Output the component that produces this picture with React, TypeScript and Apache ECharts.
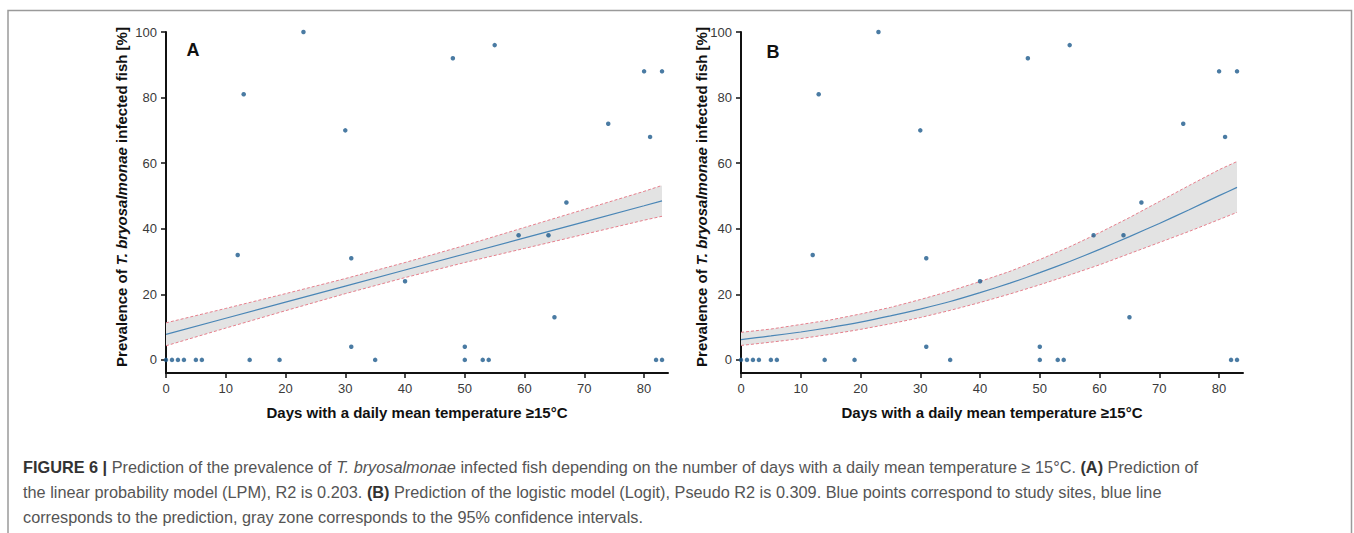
import React, { useEffect, useRef } from "react";
import * as echarts from "echarts";

// Study sites (same in both panels)
const siteDays = [0, 1, 2, 3, 5, 6, 14, 19, 35, 50, 53, 54, 82, 83, 12, 13, 23, 30, 31, 31, 40, 48, 50, 55, 59, 64, 65, 67, 74, 80, 81, 83];
const sitePrev = [0, 0, 0, 0, 0, 0, 0, 0, 0, 0, 0, 0, 0, 0, 32, 81, 100, 70, 31, 4, 24, 92, 4, 96, 38, 38, 13, 48, 72, 88, 68, 88];

// Panel A: linear probability model
const lpmX = [0, 10, 20, 30, 40, 50, 60, 70, 80, 83];
const lpmFit = [7.8, 12.7, 17.6, 22.5, 27.4, 32.3, 37.2, 42.1, 47.0, 48.5];
const lpmLower = [4.3, 9.7, 15.0, 20.2, 25.1, 29.7, 34.0, 38.3, 42.6, 43.8];
const lpmUpper = [11.3, 15.7, 20.2, 24.8, 29.7, 34.9, 40.4, 45.9, 51.4, 53.2];

// Panel B: logistic model
const logitX = [0, 5, 10, 15, 20, 25, 30, 35, 40, 45, 50, 55, 60, 65, 70, 75, 80, 83];
const logitFit = [6.2, 7.3, 8.5, 9.9, 11.5, 13.4, 15.5, 17.8, 20.5, 23.4, 26.6, 30.0, 33.7, 37.6, 41.6, 45.8, 50.1, 52.6];
const logitLower = [4.4, 5.4, 6.5, 7.8, 9.3, 11.0, 12.9, 15.1, 17.5, 20.1, 22.9, 25.9, 29.0, 32.4, 35.8, 39.2, 42.8, 45.0];
const logitUpper = [8.4, 9.4, 10.8, 12.2, 14.0, 16.0, 18.4, 21.0, 23.9, 27.0, 30.6, 34.5, 38.8, 43.4, 48.3, 53.2, 58.0, 60.5];

const xTicks = [0, 10, 20, 30, 40, 50, 60, 70, 80];
const yTicks = [0, 20, 40, 60, 80, 100];

const FONT = "'Liberation Sans', Arial, sans-serif";
const AXIS_COLOR = "#111";
const LABEL_COLOR = "#3a3a3a";
const DOT_COLOR = "#1d5a8c";
const FIT_COLOR = "#4a86b6";
const CI_COLOR = "#e57f8c";
const BAND_COLOR = "#e3e3e3";
const TITLE_SIZE = 15;

const zip = (xs: number[], ys: number[]) => xs.map((x, i) => [x, ys[i]]);

function makeAxes(gridIndex: number) {
  const xAxis = {
    type: "value",
    gridIndex,
    min: 0,
    max: 84,
    splitLine: { show: false },
    axisLine: { show: true, onZero: false, lineStyle: { color: AXIS_COLOR, width: 2 } },
    axisTick: { show: true, length: 5, customValues: xTicks, lineStyle: { color: AXIS_COLOR, width: 1.5 } },
    axisLabel: { customValues: xTicks, margin: 9, color: LABEL_COLOR, fontSize: 13, fontFamily: FONT },
    name: "Days with a daily mean temperature ≥15°C",
    nameLocation: "middle",
    nameGap: 32,
    nameTextStyle: { fontWeight: "bold", fontSize: TITLE_SIZE, color: "#111", fontFamily: FONT },
  };
  const yAxis = {
    type: "value",
    gridIndex,
    min: -4,
    max: 100,
    splitLine: { show: false },
    axisLine: { show: true, onZero: false, lineStyle: { color: AXIS_COLOR, width: 2 } },
    axisTick: { show: true, length: 5, customValues: yTicks, lineStyle: { color: AXIS_COLOR, width: 1.5 } },
    axisLabel: { customValues: yTicks, margin: 9, color: LABEL_COLOR, fontSize: 13, fontFamily: FONT },
  };
  return { xAxis, yAxis };
}

function makeSeries(idx: number, xs: number[], fit: number[], lo: number[], hi: number[]) {
  return [
    {
      type: "custom",
      xAxisIndex: idx,
      yAxisIndex: idx,
      z: 1,
      silent: true,
      data: [[0, 0]],
      renderItem: (_params: any, api: any) => {
        const top = xs.map((x, i) => api.coord([x, hi[i]]));
        const bottom = xs.map((x, i) => api.coord([x, lo[i]])).reverse();
        return {
          type: "polygon",
          shape: { points: top.concat(bottom) },
          style: { fill: BAND_COLOR },
        };
      },
    },
    {
      type: "line",
      xAxisIndex: idx,
      yAxisIndex: idx,
      z: 2,
      data: zip(xs, hi),
      showSymbol: false,
      lineStyle: { color: CI_COLOR, width: 1, type: [3, 2] },
    },
    {
      type: "line",
      xAxisIndex: idx,
      yAxisIndex: idx,
      z: 2,
      data: zip(xs, lo),
      showSymbol: false,
      lineStyle: { color: CI_COLOR, width: 1, type: [3, 2] },
    },
    {
      type: "line",
      xAxisIndex: idx,
      yAxisIndex: idx,
      z: 3,
      data: zip(xs, fit),
      showSymbol: false,
      smooth: idx === 1 ? 0.2 : false,
      lineStyle: { color: FIT_COLOR, width: 1.2 },
    },
    {
      type: "scatter",
      xAxisIndex: idx,
      yAxisIndex: idx,
      z: 4,
      data: zip(siteDays, sitePrev),
      symbolSize: 4.5,
      itemStyle: { color: DOT_COLOR },
    },
  ];
}

const yTitleRich = {
  b: { fontWeight: "bold", fontSize: TITLE_SIZE, fontFamily: FONT, fill: "#111" },
  bi: { fontWeight: "bold", fontStyle: "italic", fontSize: TITLE_SIZE, fontFamily: FONT, fill: "#111" },
};

function yTitle(x: number) {
  return {
    type: "text",
    x,
    y: 197,
    rotation: Math.PI / 2,
    style: {
      text: "{b|Prevalence of }{bi|T. bryosalmonae}{b| infected fish [%]}",
      rich: yTitleRich,
      align: "center",
      verticalAlign: "middle",
    },
  };
}

const CAP = 16.3;
const capRich = {
  n: { fontSize: CAP, fontFamily: FONT, fill: "#555" },
  b: { fontSize: CAP, fontFamily: FONT, fontWeight: "bold", fill: "#333" },
  i: { fontSize: CAP, fontFamily: FONT, fontStyle: "italic", fill: "#555" },
};

const captionLines = [
  "{b|FIGURE 6 | }{n|Prediction of the prevalence of }{i|T. bryosalmonae}{n| infected fish depending on the number of days with a daily mean temperature ≥ 15°C. }{b|(A)}{n| Prediction of}",
  "{n|the linear probability model (LPM), R2 is 0.203. }{b|(B)}{n| Prediction of the logistic model (Logit), Pseudo R2 is 0.309. Blue points correspond to study sites, blue line}",
  "{n|corresponds to the prediction, gray zone corresponds to the 95% confidence intervals.}",
];
const captionY = [467, 492, 517];

export default function App() {
  const ref = useRef<HTMLDivElement>(null);
  useEffect(() => {
    if (!ref.current) return;
    const chart = echarts.init(ref.current, undefined, { renderer: "svg" });
    const a = makeAxes(0);
    const b = makeAxes(1);
    chart.setOption({
      animation: false,
      backgroundColor: "#fff",
      grid: [
        { left: 166, top: 32, width: 502, height: 341 },
        { left: 741, top: 32, width: 502, height: 341 },
      ],
      xAxis: [a.xAxis, b.xAxis],
      yAxis: [a.yAxis, b.yAxis],
      series: [
        ...makeSeries(0, lpmX, lpmFit, lpmLower, lpmUpper),
        ...makeSeries(1, logitX, logitFit, logitLower, logitUpper),
      ],
      graphic: [
        {
          type: "polyline",
          shape: { points: [[8, 533], [8, 10.5], [1351.5, 10.5], [1351.5, 533]] },
          style: { stroke: "#9a9a9a", lineWidth: 1.5, fill: "none" },
          silent: true,
        },
        yTitle(121),
        yTitle(701),
        {
          type: "text",
          x: 193,
          y: 50,
          style: { text: "A", fontSize: 18, fontWeight: "bold", fontFamily: FONT, fill: "#111", align: "center", verticalAlign: "middle" },
        },
        {
          type: "text",
          x: 773,
          y: 52,
          style: { text: "B", fontSize: 18, fontWeight: "bold", fontFamily: FONT, fill: "#111", align: "center", verticalAlign: "middle" },
        },
        ...captionLines.map((t, i) => ({
          type: "text",
          x: 23,
          y: captionY[i],
          style: { text: t, rich: capRich, verticalAlign: "middle", align: "left" },
        })),
      ],
    });
    return () => chart.dispose();
  }, []);
  return <div ref={ref} style={{ position: "fixed", left: 0, top: 0, width: 1354, height: 533 }} />;
}
